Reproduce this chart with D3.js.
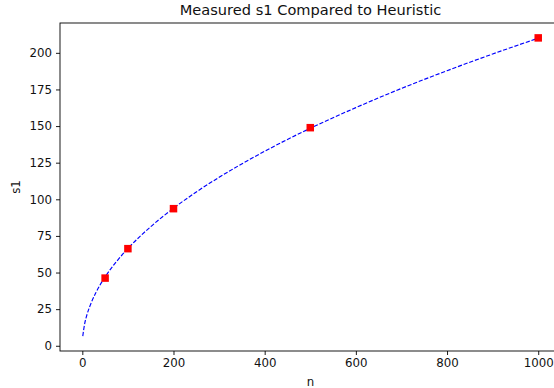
<!DOCTYPE html>
<html>
<head>
<meta charset="utf-8">
<script src="https://cdn.jsdelivr.net/npm/d3@7"></script>
<style>
  body { margin: 0; background: #fff; }
  svg text { font-family: "DejaVu Sans", sans-serif; fill: #111; }
</style>
</head>
<body>
<div id="chart"></div>
<script>
// measured points (red squares)
const measuredN = [50, 100, 200, 500, 1000];
const measuredS1 = [46.2, 66.3, 93.6, 148.9, 210.2];

// heuristic curve (blue dashed)
const heuristicN = [1, 5, 10, 20, 30, 50, 75, 100, 150, 200, 250, 300, 400, 500, 600, 700, 800, 900, 1000];
const heuristicS1 = [6.6, 14.8, 21, 29.7, 36.4, 47, 57.5, 66.4, 81.3, 93.9, 105, 115, 132.8, 148.5, 162.6, 175.7, 187.8, 199.2, 210];

const xTicks = [0, 200, 400, 600, 800, 1000];
const yTicks = [0, 25, 50, 75, 100, 125, 150, 175, 200];

const width = 554;
const height = 388;
const margin = {top: 23, right: -7, bottom: 37, left: 60};

const svg = d3.select("#chart")
  .append("svg")
  .attr("width", width)
  .attr("height", height);

const x = d3.scaleLinear()
  .domain([-48.95, 1049.95])
  .range([margin.left, width - margin.right]);

const y = d3.scaleLinear()
  .domain([-3.57, 220.37])
  .range([height - margin.bottom, margin.top]);

// ejes
const xAxis = svg.append("g")
  .attr("transform", `translate(0, ${height - margin.bottom})`)
  .call(d3.axisBottom(x).tickValues(xTicks).tickSize(4).tickPadding(4).tickFormat(d3.format("d")));

const yAxis = svg.append("g")
  .attr("transform", `translate(${margin.left}, 0)`)
  .call(d3.axisLeft(y).tickValues(yTicks).tickSize(4).tickPadding(4).tickFormat(d3.format("d")));

[xAxis, yAxis].forEach(a => {
  a.select(".domain").remove();
  a.selectAll("line").attr("stroke", "#000").attr("stroke-width", 0.9);
  a.selectAll("text").style("font-size", "11.8px").attr("fill", "#111");
});

// marco
svg.append("rect")
  .attr("x", margin.left)
  .attr("y", margin.top)
  .attr("width", width - margin.right - margin.left)
  .attr("height", height - margin.bottom - margin.top)
  .attr("fill", "none")
  .attr("stroke", "#000")
  .attr("stroke-width", 0.9);

// curva heurística
const heuristic = heuristicN.map((n, i) => [n, heuristicS1[i]]);
svg.append("path")
  .datum(heuristic)
  .attr("fill", "none")
  .attr("stroke", "blue")
  .attr("stroke-width", 1.15)
  .attr("stroke-dasharray", "4.2,1.8")
  .attr("d", d3.line().x(d => x(d[0])).y(d => y(d[1])).curve(d3.curveMonotoneX));

// puntos medidos
const sq = 7.5;
svg.selectAll(".punto")
  .data(measuredN.map((n, i) => [n, measuredS1[i]]))
  .join("rect")
  .attr("class", "punto")
  .attr("x", d => x(d[0]) - sq / 2)
  .attr("y", d => y(d[1]) - sq / 2)
  .attr("width", sq)
  .attr("height", sq)
  .attr("fill", "red");

// textos
svg.append("text")
  .attr("x", (margin.left + width - margin.right) / 2)
  .attr("y", 15)
  .attr("text-anchor", "middle")
  .style("font-size", "14.6px")
  .text("Measured s1 Compared to Heuristic");

svg.append("text")
  .attr("x", (margin.left + width - margin.right) / 2)
  .attr("y", 386)
  .attr("text-anchor", "middle")
  .style("font-size", "11.8px")
  .text("n");

svg.append("text")
  .attr("transform", `translate(20, ${(margin.top + height - margin.bottom) / 2}) rotate(-90)`)
  .attr("text-anchor", "middle")
  .style("font-size", "11.8px")
  .text("s1");
</script>
</body>
</html>
